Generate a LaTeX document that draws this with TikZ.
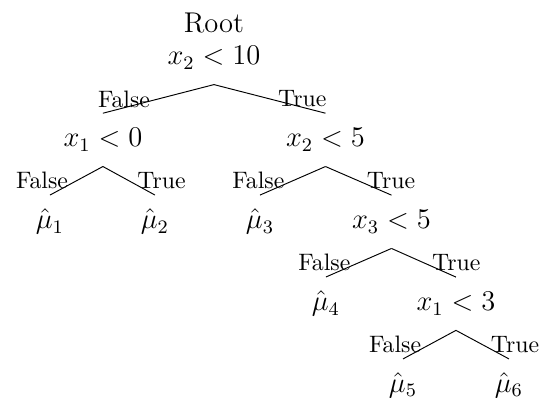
\documentclass[tikz,border=0pt]{standalone}
\usepackage{amsmath, amssymb}
\usepackage{tikz}

\begin{document}
\begin{tikzpicture}[
    tnode/.style={font=\large, minimum height=22pt, anchor=base},
    lbl/.style={font=\normalsize, midway},
    br/.style={thin, black}]
    \useasboundingbox (0,0) rectangle (7.99,-5.878);
    \node[font=\large, anchor=base] (rt) at (3.16,-0.48) {Root};
    \node[tnode] (s0) at (3.16,-0.96) {$x_2 < 10$};
    \node[tnode] (s1) at (1.52,-2.17) {$x_1 < 0$};
    \node[tnode] (s2) at (4.807,-2.17) {$x_2 < 5$};
    \node[tnode] (m1) at (0.738,-3.38) {$\hat{\mu}_1$};
    \node[tnode] (m2) at (2.289,-3.38) {$\hat{\mu}_2$};
    \node[tnode] (m3) at (3.84,-3.38) {$\hat{\mu}_3$};
    \node[tnode] (s3) at (5.782,-3.38) {$x_3 < 5$};
    \node[tnode] (m4) at (4.814,-4.59) {$\hat{\mu}_4$};
    \node[tnode] (s4) at (6.734,-4.59) {$x_1 < 3$};
    \node[tnode] (m5) at (5.952,-5.80) {$\hat{\mu}_5$};
    \node[tnode] (m6) at (7.517,-5.80) {$\hat{\mu}_6$};
    \draw[br] (s0.south) -- node[lbl, left] {False} (s1.north);
    \draw[br] (s0.south) -- node[lbl, right] {True} (s2.north);
    \draw[br] (s1.south) -- node[lbl, left] {False} (m1.north);
    \draw[br] (s1.south) -- node[lbl, right] {True} (m2.north);
    \draw[br] (s2.south) -- node[lbl, left] {False} (m3.north);
    \draw[br] (s2.south) -- node[lbl, right] {True} (s3.north);
    \draw[br] (s3.south) -- node[lbl, left] {False} (m4.north);
    \draw[br] (s3.south) -- node[lbl, right] {True} (s4.north);
    \draw[br] (s4.south) -- node[lbl, left] {False} (m5.north);
    \draw[br] (s4.south) -- node[lbl, right] {True} (m6.north);
\end{tikzpicture}
\end{document}
